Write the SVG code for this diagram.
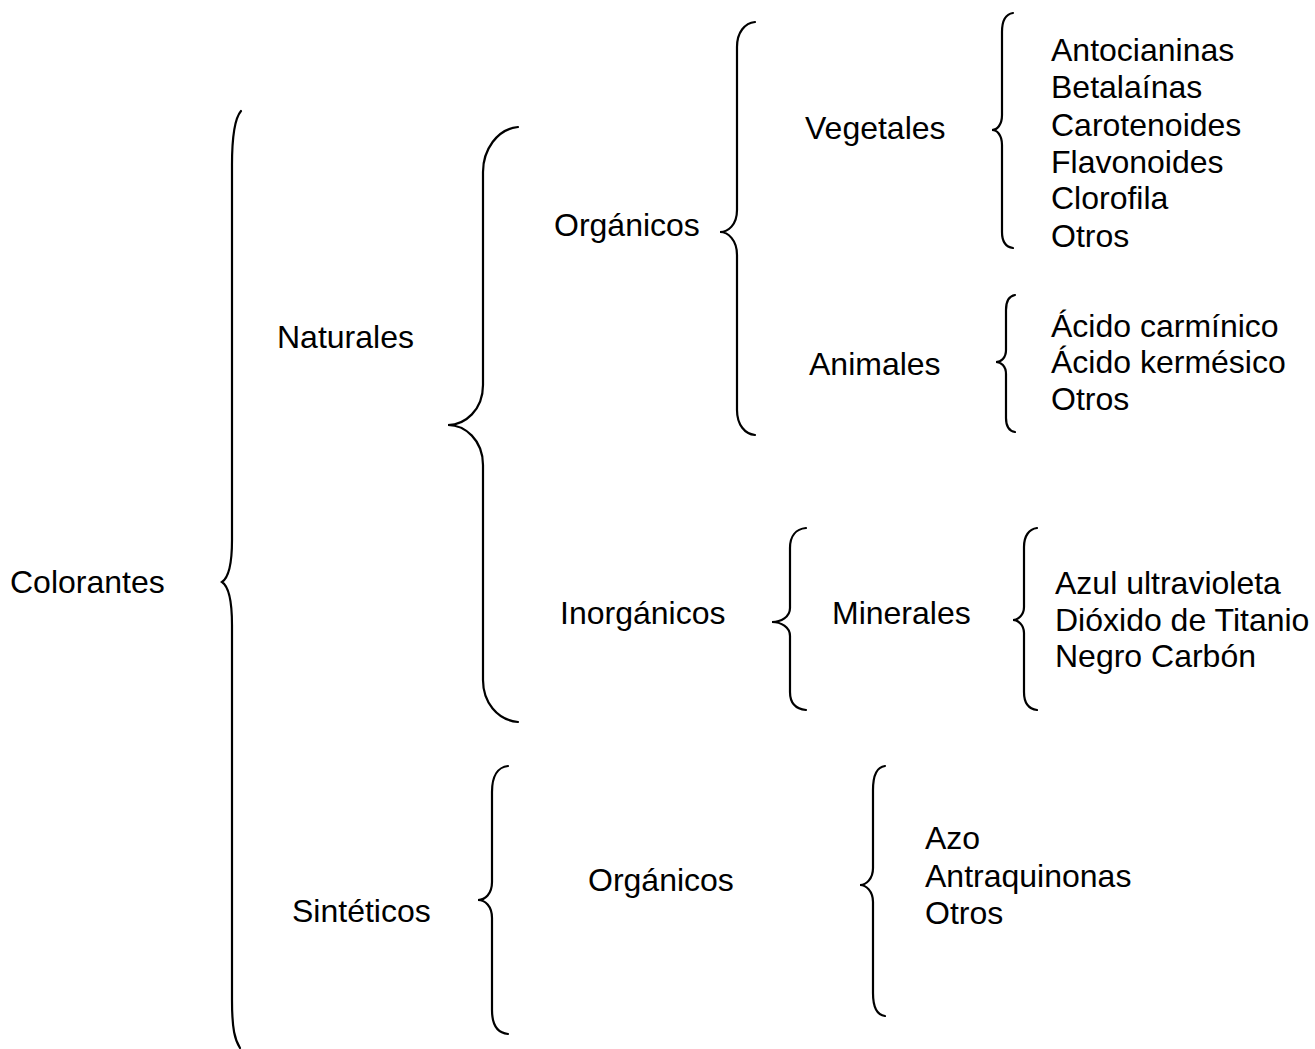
<svg xmlns="http://www.w3.org/2000/svg" width="1315" height="1049" viewBox="0 0 1315 1049">
<style>
text { font-family: "Liberation Sans", Arial, sans-serif; font-size: 32px; fill: #000; }
.brace { fill: none; stroke: #000; stroke-width: 2.2; stroke-linecap: round; stroke-linejoin: miter; }
</style>
<rect width="1315" height="1049" fill="#fff"/>
<g id="connectors">
<path class="brace" d="M241,111 C235,118 232,135 232,165 L232,540 C232,565 228,578 222,582 C228,586 232,600 232,625 L232,1000 C232,1030 235,1040 240,1048"/>
<path class="brace" d="M518,127 C497,129 483,150 483,172 L483,385 C483,410 465,425 448,425 C465,425 483,440 483,465 L483,680 C483,702 497,720 518,722"/>
<path class="brace" d="M755,22 C745,23 737,32 737,47 L737,210 C737,225 728,232 720,232 C728,232 737,240 737,255 L737,410 C737,425 745,434 755,435"/>
<path class="brace" d="M1013,13 C1006,14 1002,20 1002,32 L1002,115 C1002,125 997,130 992,130 C997,130 1002,135 1002,145 L1002,232 C1002,242 1006,247 1013,248"/>
<path class="brace" d="M1015,295 C1009,296 1006,301 1006,310 L1006,350 C1006,358 1001,362 996,362 C1001,362 1006,366 1006,374 L1006,418 C1006,427 1009,431 1015,432"/>
<path class="brace" d="M806,528 C796,529 790,536 790,548 L790,608 C790,617 781,622 772,622 C781,622 790,627 790,636 L790,692 C790,703 796,709 806,710"/>
<path class="brace" d="M1037,528 C1029,529 1024,536 1024,547 L1024,607 C1024,615 1018,620 1013,620 C1018,620 1024,625 1024,633 L1024,692 C1024,703 1029,709 1037,710"/>
<path class="brace" d="M508,766 C498,767 492,776 492,792 L492,882 C492,894 485,900 478,900 C485,900 492,906 492,918 L492,1010 C492,1025 498,1033 508,1034"/>
<path class="brace" d="M885,766 C877,767 873,775 873,790 L873,868 C873,879 866,885 860,885 C866,885 873,891 873,902 L873,993 C873,1007 877,1015 885,1016"/>
</g>
<g id="colorantes"><text x="10" y="593">Colorantes</text></g>
<g id="naturales"><text x="277" y="348">Naturales</text></g>
<g id="sinteticos"><text x="292" y="922">Sintéticos</text></g>
<g id="organicos-nat"><text x="554" y="236">Orgánicos</text></g>
<g id="inorganicos"><text x="560" y="624">Inorgánicos</text></g>
<g id="organicos-sint"><text x="588" y="891">Orgánicos</text></g>
<g id="vegetales"><text x="805" y="139">Vegetales</text></g>
<g id="animales"><text x="809" y="375">Animales</text></g>
<g id="minerales"><text x="832" y="624">Minerales</text></g>
<g id="vegetales-list">
<text x="1051" y="61">Antocianinas</text>
<text x="1051" y="98">Betalaínas</text>
<text x="1051" y="136">Carotenoides</text>
<text x="1051" y="173">Flavonoides</text>
<text x="1051" y="209">Clorofila</text>
<text x="1051" y="247">Otros</text>
</g>
<g id="animales-list">
<text x="1051" y="337">Ácido carmínico</text>
<text x="1051" y="373">Ácido kermésico</text>
<text x="1051" y="410">Otros</text>
</g>
<g id="minerales-list">
<text x="1055" y="594">Azul ultravioleta</text>
<text x="1055" y="631">Dióxido de Titanio</text>
<text x="1055" y="667">Negro Carbón</text>
</g>
<g id="sinteticos-list">
<text x="925" y="849">Azo</text>
<text x="925" y="887">Antraquinonas</text>
<text x="925" y="924">Otros</text>
</g>
</svg>
